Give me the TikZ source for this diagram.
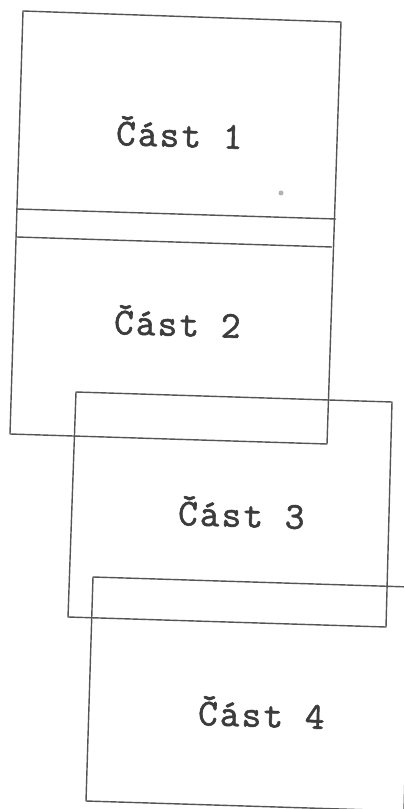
\documentclass[tikz,border=0pt]{standalone}
\usepackage{fontspec}
\setmonofont[LetterSpace=6, FakeBold=1.6]{Latin Modern Mono}
\definecolor{scanline}{HTML}{555555}
\definecolor{scantext}{HTML}{3C3C3C}

\begin{document}
\begin{tikzpicture}[x=0.25mm, y=-0.25mm,
    frame/.style={draw=scanline, line width=1pt, line join=round},
    partlabel/.style={text=scantext, inner sep=0pt, anchor=base, rotate=-1.8,
        font=\ttfamily\fontsize{27}{31}\selectfont}]
    \useasboundingbox (0,0) rectangle (404,809);
    \clip (0,0) rectangle (404,809);

    % Rohy horniho ramu (cast 1 a 2)
    \coordinate (a1) at (23,11);
    \coordinate (a2) at (341,22);
    \coordinate (a3) at (327,444);
    \coordinate (a4) at (10,434);

    % Ram casti 1 a 2 s delicimi carami
    \draw[frame] (a1) -- (a2) -- (a3) -- (a4) -- cycle;
    \draw[frame] (17,209) -- (336,219);
    \draw[frame] (17,237) -- (332,247);

    % Ram casti 3
    \draw[frame] (76,392) -- (392,402) -- (386,627) -- (68,617) -- cycle;

    % Ram casti 4 (presahuje vpravo)
    \draw[frame] (93,577) -- (410,587) -- (404,811) -- (86,801) -- cycle;

    % Popisky
    \node[partlabel] (cast1) at (179,147) {Část 1};
    \node[partlabel] (cast2) at (177,336) {Část 2};
    \node[partlabel] (cast3) at (241,527) {Část 3};
    \node[partlabel] (cast4) at (261,727) {Část 4};

    % Tecka ze skenu
    \fill[gray!60] (281,193) circle (2.5);
\end{tikzpicture}
\end{document}
